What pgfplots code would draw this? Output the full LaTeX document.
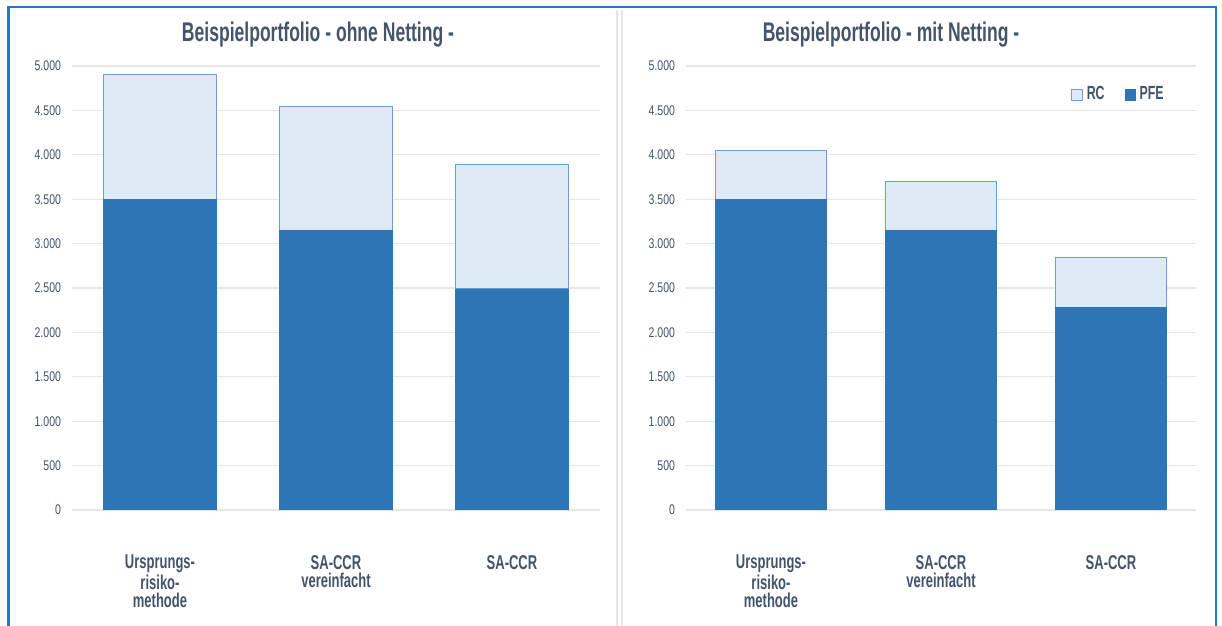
\documentclass[border=0pt]{standalone}
\usepackage{fontspec}
\setmainfont{Liberation Sans}[FakeStretch=0.75]
\newfontfamily\condfont{Liberation Sans}[FakeStretch=0.65]
\usepackage{pgfplots}
\pgfplotsset{compat=1.18}
\definecolor{pfe}{HTML}{2E75B6}
\definecolor{rc}{HTML}{DEEAF6}
\definecolor{rcedge}{HTML}{6F9FD4}
\definecolor{txt}{HTML}{44546A}
\definecolor{gridc}{HTML}{E4E6EA}
\definecolor{framec}{HTML}{1F7AC8}
\pgfplotsset{
  mystyle/.style={
    scale only axis, height=222pt,
    ymin=0, ymax=5000, xmin=-0.5, xmax=2.5,
    axis line style={draw=none}, major tick length=0pt,
    ytick={0,500,...,5000},
    yticklabels={0,500,1.000,1.500,2.000,2.500,3.000,3.500,4.000,4.500,5.000},
    ymajorgrids, grid style={gridc, line width=0.6pt},
    xtick={0,1,2},
    xticklabels={{Ursprungs-\\risiko-\\methode},{SA-CCR\\vereinfacht},{SA-CCR}},
    xticklabel style={align=center, anchor=north, yshift=-19pt,
      font=\condfont\bfseries\fontsize{10}{9.2}\selectfont, text=txt},
    yticklabel style={font=\fontsize{7}{8}\selectfont, text=txt, xshift=-2pt},
    ybar stacked,
  }
}
\begin{document}
\begin{tikzpicture}
\useasboundingbox (0,0) rectangle (611pt,313pt);
\fill[white] (0,0) rectangle (611pt,313pt);
\draw[gridc, line width=0.6pt] (308.5pt,0) -- (308.5pt,308pt);
\draw[gridc, line width=0.6pt] (311pt,0) -- (311pt,308pt);
\begin{axis}[mystyle, at={(36pt,58pt)}, anchor=south west, width=264pt, bar width=56.5pt]
\addplot[fill=pfe, draw=pfe, line width=0.3pt] coordinates {(0,3500) (1,3150) (2,2490)};
\addplot[fill=rc, draw=rcedge, line width=0.5pt] coordinates {(0,1400) (1,1390) (2,1400)};
\end{axis}
\begin{axis}[mystyle, at={(343pt,58pt)}, anchor=south west, width=255pt, bar width=55.5pt,
  legend columns=2, reverse legend,
  legend image code/.code={\draw[#1] (0pt,-2.6pt) rectangle (5.2pt,2.6pt);},
  legend style={at={(0.85,0.935)}, anchor=center, draw=none, fill=none,
    font=\condfont\bfseries\fontsize{9.5}{10}\selectfont, text=txt,
    /tikz/every even column/.append style={column sep=8pt}},
  ]
\addplot[fill=pfe, draw=pfe, line width=0.3pt] coordinates {(0,3500) (1,3150) (2,2280)};
\addlegendentry{PFE}
\addplot[fill=rc, draw=rcedge, line width=0.5pt] coordinates {(0,550) (1,550) (2,560)};
\addlegendentry{RC}
\end{axis}
\node[font=\condfont\bfseries\fontsize{13.5}{15}\selectfont, text=txt] at (159pt,295.5pt) {Beispielportfolio - ohne Netting -};
\node[font=\condfont\bfseries\fontsize{13.5}{15}\selectfont, text=txt] at (445.5pt,295.5pt) {Beispielportfolio - mit Netting -};
\draw[framec, line width=1.2pt] (4.25pt,0) -- (4.25pt,309.4pt) -- (608pt,309.4pt) -- (608pt,0);
\end{tikzpicture}
\end{document}
